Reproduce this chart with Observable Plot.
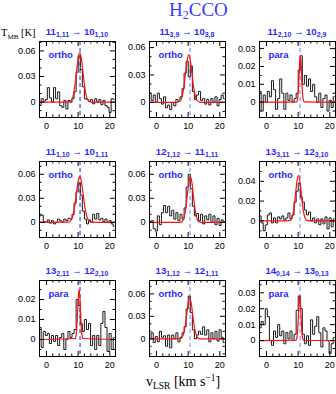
<!DOCTYPE html>
<html><head><meta charset="utf-8">
<script src="https://cdn.jsdelivr.net/npm/d3@7"></script>
<script src="https://cdn.jsdelivr.net/npm/@observablehq/plot@0.6"></script>
<style>
body{margin:0;background:#fff;}
#root{position:relative;width:336px;height:394px;overflow:hidden;background:#fff;}
.lab{position:absolute;color:#2a2aff;font-family:"Liberation Sans",Arial,sans-serif;font-weight:bold;font-size:9.5px;line-height:9px;text-align:center;white-space:nowrap;}
.lab sub{font-size:7px;vertical-align:-2px;line-height:0;}
.title{position:absolute;color:#3a3aff;font-family:"Liberation Serif",serif;font-size:19px;line-height:18px;white-space:nowrap;}
.title sub{font-size:12px;vertical-align:-3px;line-height:0;}
.ax{position:absolute;color:#000;font-family:"Liberation Serif",serif;white-space:nowrap;}
.ax sub{vertical-align:-3px;line-height:0;}
.ax sup{vertical-align:5px;line-height:0;}
</style></head>
<body><div id="root"></div>
<script>
// ---- data ----
const velocity = [-2.0, -1.35, -0.7, -0.05, 0.6, 1.25, 1.9, 2.55, 3.2, 3.85, 4.5, 5.15, 5.8, 6.45, 7.1, 7.75, 8.4, 9.05, 9.7, 10.35, 11.0, 11.65, 12.3, 12.95, 13.6, 14.25, 14.9, 15.55, 16.2, 16.85, 17.5, 18.15, 18.8, 19.45, 20.1, 20.75, 21.4];

const spec1 = [-0.004, 0.004, 0.001, 0.003, 0.017, 0.005, 0.000, 0.017, 0.004, 0.012, -0.004, -0.006, 0.002, -0.008, 0.002, 0.000, 0.004, 0.012, 0.035, 0.054, 0.038, 0.018, 0.004, 0.003, 0.001, 0.003, -0.002, 0.004, 0.000, 0.003, -0.003, 0.002, -0.004, -0.006, -0.012, 0.004, 0.003];
const spec2 = [0.010, 0.002, 0.008, 0.000, 0.010, 0.004, -0.002, 0.006, -0.006, -0.003, -0.008, 0.000, -0.004, 0.003, 0.001, 0.006, 0.015, 0.032, 0.045, 0.028, 0.040, 0.012, 0.003, 0.008, 0.012, 0.002, 0.004, -0.002, 0.003, -0.003, 0.004, 0.000, 0.006, -0.004, 0.003, 0.008, 0.004];
const spec3 = [0.006, -0.005, 0.004, 0.000, 0.006, 0.003, 0.012, 0.007, -0.004, 0.002, 0.013, 0.005, -0.004, 0.005, 0.001, 0.004, 0.000, 0.002, 0.005, 0.018, 0.026, 0.010, 0.015, 0.009, 0.013, 0.006, 0.010, 0.003, 0.000, 0.005, -0.003, 0.002, 0.004, -0.005, 0.001, -0.003, 0.003];
const spec4 = [0.008, 0.009, 0.001, 0.000, 0.003, -0.001, 0.002, -0.002, 0.000, 0.004, 0.002, 0.000, 0.004, 0.002, 0.005, 0.004, 0.010, 0.024, 0.038, 0.049, 0.034, 0.014, 0.004, -0.002, 0.003, 0.000, 0.010, 0.004, 0.011, 0.003, 0.005, 0.001, 0.004, 0.000, 0.002, -0.002, -0.005];
const spec5 = [0.001, 0.002, -0.008, -0.011, 0.008, -0.003, 0.012, 0.021, 0.012, 0.020, 0.008, 0.015, 0.004, 0.012, 0.002, 0.010, 0.004, 0.018, 0.044, 0.060, 0.042, 0.020, 0.008, 0.011, 0.002, 0.010, -0.002, 0.008, 0.003, 0.010, 0.000, 0.008, -0.003, 0.005, -0.004, 0.003, 0.001];
const spec6 = [0.005, -0.002, -0.010, -0.004, 0.006, 0.008, -0.002, 0.003, -0.002, 0.004, 0.002, 0.005, 0.001, 0.003, 0.008, 0.002, 0.006, 0.019, 0.030, 0.038, 0.024, 0.019, 0.011, 0.006, 0.009, 0.000, 0.003, -0.002, 0.002, -0.004, 0.002, -0.003, 0.004, -0.008, 0.003, -0.006, 0.002];
const spec7 = [0.006, -0.004, 0.004, 0.002, 0.003, -0.002, 0.002, -0.001, 0.002, -0.003, 0.001, 0.003, -0.005, 0.000, 0.004, 0.001, 0.003, 0.005, 0.020, 0.017, 0.008, 0.004, 0.010, 0.005, 0.008, -0.003, 0.002, -0.005, 0.002, -0.003, 0.008, 0.014, 0.006, -0.006, 0.003, -0.005, 0.001];
const spec8 = [0.000, 0.008, -0.005, 0.003, -0.004, 0.010, 0.002, 0.004, -0.010, 0.005, -0.012, 0.005, 0.000, 0.008, -0.004, 0.002, 0.008, 0.016, 0.040, 0.057, 0.035, 0.012, 0.000, 0.005, 0.010, 0.006, 0.016, 0.005, 0.012, -0.004, 0.008, 0.000, 0.010, -0.003, 0.012, 0.002, -0.005];
const spec9 = [0.008, 0.012, 0.010, 0.020, 0.015, 0.000, -0.003, 0.006, 0.002, 0.010, 0.003, 0.006, -0.002, 0.005, 0.001, 0.006, 0.000, 0.004, 0.019, 0.028, 0.020, 0.004, -0.002, 0.003, -0.003, 0.013, 0.004, 0.009, 0.015, 0.005, -0.004, 0.008, 0.006, 0.000, -0.008, -0.002, 0.002];

// Gaussian fits (red)
const fitX1 = [-2.2, 7.0, 7.5, 8.0, 8.5, 9.0, 9.5, 10.0, 10.5, 11.0, 11.5, 12.0, 12.5, 13.0, 13.5, 14.0, 21.8];
const fitY1 = [0, 0, 0.001, 0.003, 0.0085, 0.020, 0.036, 0.051, 0.058, 0.051, 0.036, 0.020, 0.0085, 0.003, 0.001, 0, 0];
const fitX2 = [-2.2, 6.7, 7.2, 7.7, 8.2, 8.7, 9.2, 9.7, 10.2, 10.7, 11.2, 11.7, 12.2, 12.7, 13.2, 13.7, 21.8];
const fitY2 = [0, 0, 0.001, 0.0026, 0.0076, 0.0176, 0.032, 0.046, 0.052, 0.046, 0.032, 0.0176, 0.0076, 0.0026, 0.001, 0, 0];
const fitX3 = [-2.2, 9.5, 9.7, 9.9, 10.1, 10.3, 10.5, 10.7, 10.9, 11.1, 11.3, 11.5, 11.7, 11.9, 21.8];
const fitY3 = [0, 0.0002, 0.0009, 0.0029, 0.0076, 0.015, 0.0227, 0.026, 0.0227, 0.015, 0.0076, 0.0029, 0.0009, 0.0002, 0];
const fitX4 = [-2.2, 7.0, 7.5, 8.0, 8.5, 9.0, 9.5, 10.0, 10.5, 11.0, 11.5, 12.0, 12.5, 13.0, 13.5, 14.0, 21.8];
const fitY4 = [0, 0.0003, 0.0014, 0.0043, 0.011, 0.0225, 0.0377, 0.0514, 0.057, 0.0514, 0.0377, 0.0225, 0.011, 0.0043, 0.0014, 0.0003, 0];
const fitX5 = [-2.2, 7.2, 7.7, 8.2, 8.7, 9.2, 9.7, 10.2, 10.7, 11.2, 11.7, 12.2, 12.7, 13.2, 13.7, 14.2, 21.8];
const fitY5 = [0, 0, 0.0003, 0.0016, 0.0058, 0.0157, 0.0321, 0.0494, 0.057, 0.0494, 0.0321, 0.0157, 0.0058, 0.0016, 0.0003, 0, 0];
const fitX6 = [-2.2, 6.6, 7.1, 7.6, 8.1, 8.6, 9.1, 9.6, 10.1, 10.6, 11.1, 11.6, 12.1, 12.6, 13.1, 13.6, 21.8];
const fitY6 = [0, 0, 0.0002, 0.0009, 0.0037, 0.0112, 0.0245, 0.0393, 0.046, 0.0393, 0.0245, 0.0112, 0.0037, 0.0009, 0.0002, 0, 0];
const fitX7 = [-2.2, 9.1, 9.3, 9.5, 9.7, 9.9, 10.1, 10.3, 10.5, 10.7, 10.9, 11.1, 11.3, 11.5, 21.8];
const fitY7 = [0, 0.0005, 0.0016, 0.0043, 0.0092, 0.016, 0.0224, 0.025, 0.0224, 0.016, 0.0092, 0.0043, 0.0016, 0.0005, 0];
const fitX8 = [-2.2, 7.0, 7.5, 8.0, 8.5, 9.0, 9.5, 10.0, 10.5, 11.0, 11.5, 12.0, 12.5, 13.0, 13.5, 14.0, 21.8];
const fitY8 = [0, 0, 0.0003, 0.0015, 0.0055, 0.0149, 0.0305, 0.0468, 0.054, 0.0468, 0.0305, 0.0149, 0.0055, 0.0015, 0.0003, 0, 0];
const fitX9 = [-2.2, 9.3, 9.5, 9.7, 9.9, 10.1, 10.3, 10.5, 10.7, 10.9, 11.1, 11.3, 11.5, 11.7, 21.8];
const fitY9 = [0, 0.0002, 0.0009, 0.0031, 0.0081, 0.0162, 0.0244, 0.028, 0.0244, 0.0162, 0.0081, 0.0031, 0.0009, 0.0002, 0];

const upperLevel = [["11","1,11"], ["11","3,9"], ["11","2,10"], ["11","1,10"], ["12","1,12"], ["13","3,11"], ["13","2,11"], ["13","1,12"], ["14","0,14"]];
const lowerLevel = [["10","1,10"], ["10","3,8"], ["10","2,9"], ["10","1,11"], ["11","1,11"], ["12","3,10"], ["12","2,10"], ["12","1,11"], ["13","0,13"]];
const spinType = ["ortho", "ortho", "para", "ortho", "ortho", "ortho", "para", "ortho", "para"];

const yDomains = [[-0.018, 0.071], [-0.0167, 0.0667], [-0.0086, 0.034], [-0.019, 0.076], [-0.019, 0.076], [-0.0168, 0.06], [-0.0085, 0.0295], [-0.0236, 0.0778], [-0.010, 0.0377]];
const yTickLabels = [[0, 0.03, 0.06], [0, 0.03, 0.06], [0, 0.01, 0.02, 0.03], [0, 0.03, 0.06], [0, 0.03, 0.06], [0, 0.02, 0.04], [0, 0.01, 0.02], [0, 0.03, 0.06], [0, 0.01, 0.02, 0.03]];
const yMinorStep = [0.01, 0.01, 0.005, 0.01, 0.01, 0.01, 0.005, 0.01, 0.005];
const xTickLabels = [0, 10, 20];
const xMinorTicks = [2, 4, 6, 8, 12, 14, 16, 18];
const xDomain = [-2.2, 21.8];
const sourceVelocity = 10.6;

// ---- layout ----
const spectra = [spec1, spec2, spec3, spec4, spec5, spec6, spec7, spec8, spec9];
const fitXs = [fitX1, fitX2, fitX3, fitX4, fitX5, fitX6, fitX7, fitX8, fitX9];
const fitYs = [fitY1, fitY2, fitY3, fitY4, fitY5, fitY6, fitY7, fitY8, fitY9];
const colLeft = [39, 149, 259];
const rowTop = [41, 161, 280];
const inner = 76;
const blue = "#2a2aff";
const dashColors = ["#2323d8", "#6f80ff", "#6f80ff"];
const root = document.getElementById("root");

function fmt(d) { return d === 0 ? "0" : d.toFixed(2); }

for (let i = 0; i < 9; i++) {
  const col = i % 3, row = Math.floor(i / 3);
  const data = velocity.map((v, j) => ({v, T: spectra[i][j]}));
  const fit = fitXs[i].map((v, j) => ({v, T: fitYs[i][j]}));
  const [y0, y1] = yDomains[i];
  const st = yMinorStep[i];
  const minorY = d3.range(Math.ceil(y0 / st), Math.floor(y1 / st) + 1)
    .map(k => +(k * st).toFixed(4))
    .filter(y => y > y0 && y < y1 && !yTickLabels[i].some(t => Math.abs(t - y) < 1e-6));
  const svg = Plot.plot({
    width: 36 + inner + 1, height: 1 + inner + 14,
    marginLeft: 36, marginRight: 1, marginTop: 1, marginBottom: 14,
    x: {domain: xDomain},
    y: {domain: yDomains[i]},
    style: {fontFamily: "'Liberation Sans', Arial, sans-serif", fontSize: "9px", color: "#000", background: "transparent", overflow: "visible"},
    marks: [
      Plot.ruleX([sourceVelocity], {stroke: dashColors[col], strokeDasharray: "4,3", strokeWidth: 1}),
      Plot.line(data, {x: "v", y: "T", curve: "step", stroke: "#1a1a1a", strokeWidth: 1, clip: true}),
      Plot.line(fit, {x: "v", y: "T", curve: "monotone-x", stroke: "#ff1010", strokeWidth: 1.2, clip: true}),
      Plot.ruleX(xTickLabels, {insetTop: inner - 5}),
      Plot.ruleX(xTickLabels, {insetBottom: inner - 5}),
      Plot.ruleX(xMinorTicks, {insetTop: inner - 2.5}),
      Plot.ruleX(xMinorTicks, {insetBottom: inner - 2.5}),
      Plot.ruleY(yTickLabels[i], {insetRight: inner - 5}),
      Plot.ruleY(yTickLabels[i], {insetLeft: inner - 5}),
      Plot.ruleY(minorY, {insetRight: inner - 2.5}),
      Plot.ruleY(minorY, {insetLeft: inner - 2.5}),
      Plot.frame({stroke: "#000", strokeWidth: 1}),
      Plot.axisX({ticks: xTickLabels, tickSize: 0, tickPadding: 5, label: null, tickFormat: d => String(d)}),
      Plot.axisY({ticks: yTickLabels[i], tickSize: 0, tickPadding: 4, label: null, tickFormat: fmt}),
      Plot.text([spinType[i]], {text: d => d, frameAnchor: "top-left", dx: 9, dy: 10, fill: blue, fontWeight: "bold", fontSize: 9.5})
    ]
  });
  svg.style.position = "absolute";
  svg.style.left = (colLeft[col] - 36) + "px";
  svg.style.top = (rowTop[row] - 1) + "px";
  root.appendChild(svg);

  const lab = document.createElement("div");
  lab.className = "lab";
  lab.style.left = (colLeft[col] - 12) + "px";
  lab.style.width = (inner + 24) + "px";
  lab.style.top = (rowTop[row] - 14) + "px";
  lab.innerHTML = `${upperLevel[i][0]}<sub>${upperLevel[i][1]}</sub> \u2192 ${lowerLevel[i][0]}<sub>${lowerLevel[i][1]}</sub>`;
  root.appendChild(lab);
}

const title = document.createElement("div");
title.className = "title";
title.style.left = "169px"; title.style.top = "1px";
title.innerHTML = "H<sub>2</sub>CCO";
root.appendChild(title);

const yl = document.createElement("div");
yl.className = "ax";
yl.style.left = "1px"; yl.style.top = "27px"; yl.style.fontSize = "10.5px";
yl.innerHTML = "T<sub style='font-size:7px'>MB</sub> [K]";
root.appendChild(yl);

const xl = document.createElement("div");
xl.className = "ax";
xl.style.left = "146px"; xl.style.top = "374px"; xl.style.fontSize = "14px";
xl.innerHTML = "v<sub style='font-size:9.5px'>LSR</sub> [km s<sup style='font-size:9.5px'>\u22121</sup>]";
root.appendChild(xl);
</script>
</body></html>
